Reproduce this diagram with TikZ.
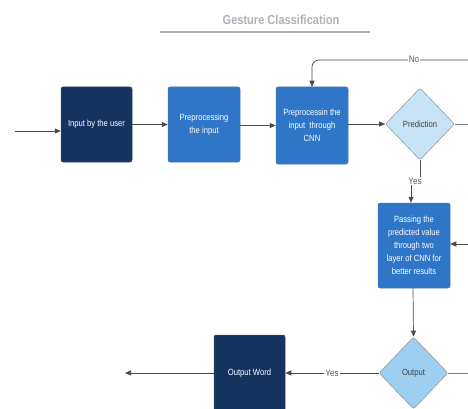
\documentclass[tikz,border=0pt]{standalone}
\usepackage{fontspec}
\setmainfont{Liberation Sans}[FakeStretch=0.85]
\usetikzlibrary{shapes.geometric,arrows.meta}
\definecolor{navy}{HTML}{14335F}
\definecolor{midblue}{HTML}{2F76C9}
\definecolor{predfill}{HTML}{C6E4F6}
\definecolor{outfill}{HTML}{9CCFF1}
\definecolor{linegray}{HTML}{4A4A4A}
\definecolor{titlegray}{HTML}{AEB2B9}
\tikzset{
  boxdark/.style={draw=navy!70!gray, line width=0.5pt, fill=navy, rounded corners=2pt, text=white, align=center, inner sep=0pt, font=\fontsize{9}{13.5}\selectfont},
  boxblue/.style={draw=midblue!70!gray, line width=0.5pt, fill=midblue, rounded corners=2pt, text=white, align=center, inner sep=0pt, font=\fontsize{9}{13}\selectfont},
  decide/.style={diamond, draw=gray!80, line width=0.6pt, rounded corners=2pt, inner sep=0pt, text=black!75, font=\fontsize{9}{10}\selectfont},
  conn/.style={draw=linegray, line width=0.7pt, -{Triangle[length=6pt,width=5pt]}},
  plainline/.style={draw=linegray!70, line width=0.7pt},
  lbl/.style={fill=white, inner sep=1pt, text=black!65, font=\fontsize{9.5}{10}\selectfont}
}
\begin{document}
\begin{tikzpicture}[x=1pt,y=-1pt]
\useasboundingbox (0,0) rectangle (468,409);
\clip (0,0) rectangle (468,409);
% title
\node[text=titlegray, font=\bfseries\fontsize{13}{15}\selectfont] (title) at (281,20) {Gesture Classification};
\coordinate (tl) at (160,32);
\coordinate (tr) at (370,32);
\draw[titlegray, line width=1.2pt] (tl) -- (tr);
% boxes
\node[boxdark, minimum width=71pt, minimum height=75pt] (b1) at (96.5,124.5) {Input by the user};
\node[boxblue, minimum width=72pt, minimum height=75pt] (b2) at (204,124.5) {Preprocessing\\the input};
\node[boxblue, minimum width=72pt, minimum height=77pt] (b3) at (312,125.5) {Preprocessin the\\input\ \ through\\CNN};
\node[decide, fill=predfill, minimum width=69pt, minimum height=72pt] (pred) at (420,124) {Prediction};
\node[boxblue, minimum width=72pt, minimum height=85pt] (b4) at (414,245.5) {Passing the\\predicted value\\through two\\layer of CNN for\\better results};
\node[decide, fill=outfill, minimum width=69pt, minimum height=72pt] (outd) at (413.5,373) {Output};
\node[boxdark, minimum width=71pt, minimum height=76pt] (ow) at (249.5,373) {Output Word};
% edge coordinates
\coordinate (inL) at (15,131);
\coordinate (noR) at (470,60);
\coordinate (predR) at (470,124);
\coordinate (b4R) at (470,244);
\coordinate (outR) at (470,373);
\coordinate (owL) at (125,373);
\coordinate (yesjog) at (415,181);
% connectors
\draw[conn] (inL) -- (b1.west |- inL);
\draw[conn] (b1.east |- 0,124.5) -- (b2.west |- 0,124.5);
\draw[conn] (b2.east |- 0,125.5) -- (b3.west |- 0,125.5);
\draw[conn] (b3.east |- 0,124) -- (pred.west);
\draw[plainline] (pred.east) -- (predR);
\draw[conn, rounded corners=7pt] (noR) -| (b3.north);
\node[lbl] (nolbl) at (414,59) {No};
\draw[conn] (pred.south) |- (yesjog) -| ([xshift=-3pt]b4.north);
\node[lbl] (yeslbl) at (415,181) {Yes};
\draw[conn] (b4R) -- (b4.east |- b4R);
\draw[conn] ([xshift=-1pt]b4.south) -- (outd.north);
\draw[plainline] (outd.east) -- (outR);
\draw[conn] (outd.west) -- (ow.east) node[lbl, pos=0.5] (yes2) {Yes};
\draw[conn] (ow.west) -- (owL);
\end{tikzpicture}
\end{document}
